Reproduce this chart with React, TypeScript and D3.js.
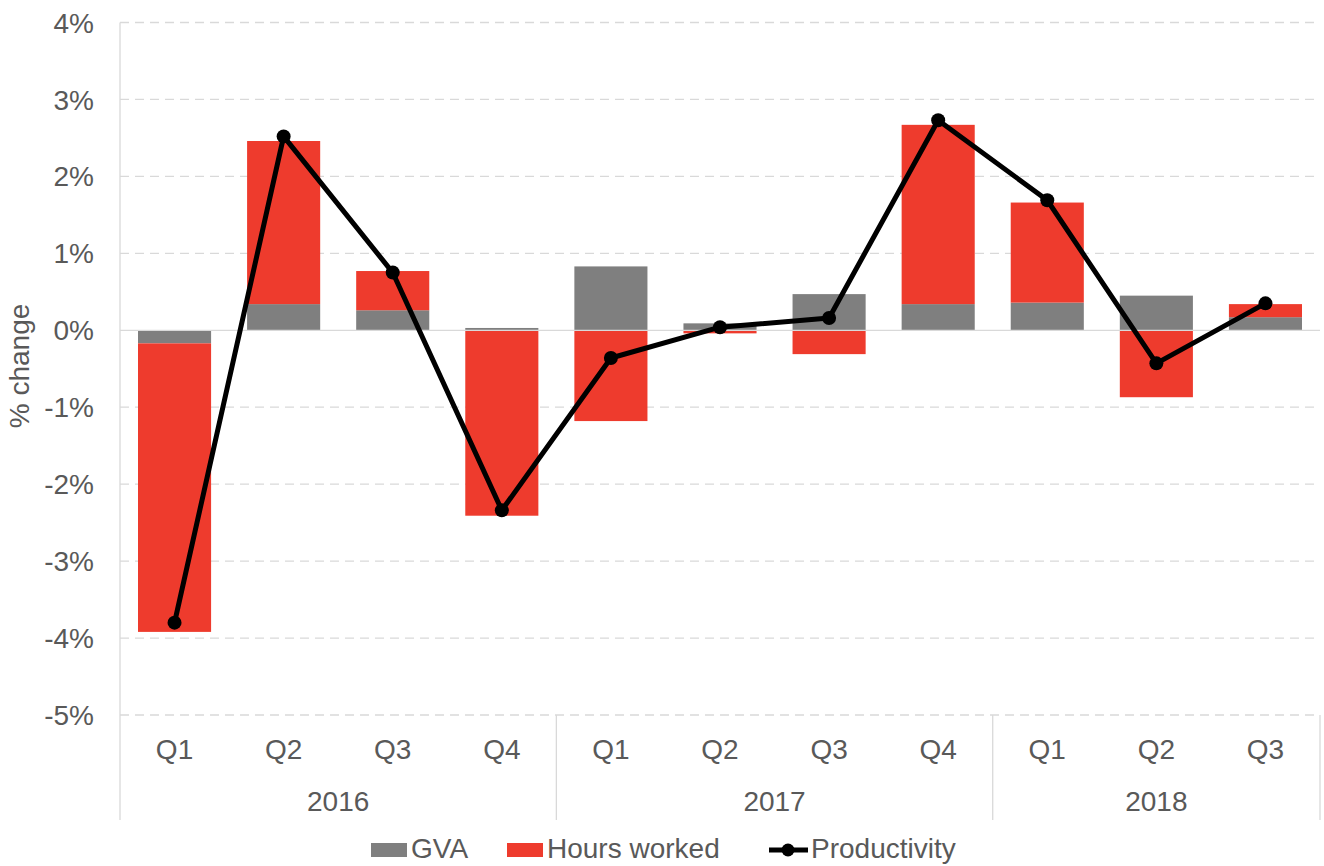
import { useEffect, useRef } from "react";
import * as d3 from "d3";

const quarters = ["Q1", "Q2", "Q3", "Q4", "Q1", "Q2", "Q3", "Q4", "Q1", "Q2", "Q3"];
const years = ["2016", "2017", "2018"];
const yearSpans = [4, 4, 3];
const gva = [-0.17, 0.34, 0.26, 0.03, 0.83, 0.09, 0.47, 0.34, 0.36, 0.45, 0.17];
const hoursWorked = [-3.75, 2.12, 0.51, -2.41, -1.18, -0.04, -0.31, 2.33, 1.3, -0.87, 0.17];
const productivity = [-3.8, 2.52, 0.75, -2.34, -0.36, 0.04, 0.16, 2.73, 1.69, -0.43, 0.35];
const yTicks = [4, 3, 2, 1, 0, -1, -2, -3, -4, -5];

const GREY = "#7f7f7f";
const RED = "#ee3b2d";
const TEXT = "#595959";
const FONT = "'Liberation Sans', Arial, sans-serif";

export default function App() {
  const ref = useRef<SVGSVGElement>(null);

  useEffect(() => {
    const svg = d3.select(ref.current);
    const width = 1324;
    const height = 866;
    const left = 120;
    const right = 1320;
    svg.selectAll("*").remove();
    svg.attr("viewBox", `0 0 ${width} ${height}`);

    const idx = quarters.map((_, i) => i);
    const x = d3.scaleBand<number>().domain(idx).range([left, right]).paddingInner(0.33).paddingOuter(0.165);
    const step = x.step();
    const y = d3.scaleLinear().domain([-5, 4]).range([715, 22.5]);

    // gridlines
    svg
      .append("g")
      .selectAll("line")
      .data(yTicks.filter((t) => t !== 0))
      .join("line")
      .attr("x1", left)
      .attr("x2", right)
      .attr("y1", (d) => y(d))
      .attr("y2", (d) => y(d))
      .attr("stroke", "#d9d9d9")
      .attr("stroke-width", 1.3)
      .attr("stroke-dasharray", "9,6");

    // tick labels
    svg
      .append("g")
      .selectAll("text")
      .data(yTicks)
      .join("text")
      .attr("x", 94)
      .attr("y", (d) => y(d))
      .attr("dy", "0.36em")
      .attr("text-anchor", "end")
      .attr("fill", TEXT)
      .style("font", `28px ${FONT}`)
      .text((d) => `${d}%`);

    svg
      .append("text")
      .attr("transform", `translate(29,366) rotate(-90)`)
      .attr("text-anchor", "middle")
      .attr("fill", TEXT)
      .style("font", `28px ${FONT}`)
      .text("% change");

    // stacked bars: positives and negatives stack separately
    const bars = svg.append("g");
    idx.forEach((i) => {
      let pos = 0;
      let neg = 0;
      [
        { v: gva[i], c: GREY },
        { v: hoursWorked[i], c: RED },
      ].forEach(({ v, c }) => {
        const base = v >= 0 ? pos : neg;
        const top = base + v;
        if (v >= 0) pos = top;
        else neg = top;
        bars
          .append("rect")
          .attr("x", x(i)!)
          .attr("width", x.bandwidth())
          .attr("y", y(Math.max(base, top)))
          .attr("height", Math.abs(y(base) - y(top)))
          .attr("fill", c);
      });
    });

    // zero axis line
    svg
      .append("line")
      .attr("x1", left)
      .attr("x2", right)
      .attr("y1", y(0))
      .attr("y2", y(0))
      .attr("stroke", "#d9d9d9")
      .attr("stroke-width", 1.3);

    // left axis and category separators
    const seps = [0, 4, 8, 11];
    svg
      .append("g")
      .selectAll("line")
      .data(seps)
      .join("line")
      .attr("x1", (d) => left + d * step)
      .attr("x2", (d) => left + d * step)
      .attr("y1", (d) => (d === 0 ? 22.5 : y(-5)))
      .attr("y2", 820)
      .attr("stroke", "#d9d9d9")
      .attr("stroke-width", 1.3);

    svg
      .append("g")
      .selectAll("text")
      .data(idx)
      .join("text")
      .attr("x", (d) => x(d)! + x.bandwidth() / 2)
      .attr("y", 759)
      .attr("text-anchor", "middle")
      .attr("fill", TEXT)
      .style("font", `28px ${FONT}`)
      .text((d) => quarters[d]);

    let acc = 0;
    years.forEach((yr, k) => {
      const cx = left + (acc + yearSpans[k] / 2) * step;
      acc += yearSpans[k];
      svg
        .append("text")
        .attr("x", cx)
        .attr("y", 811)
        .attr("text-anchor", "middle")
        .attr("fill", TEXT)
        .style("font", `28px ${FONT}`)
        .text(yr);
    });

    // productivity line
    const line = d3
      .line<number>()
      .x((d, i) => x(i)! + x.bandwidth() / 2)
      .y((d) => y(d));
    svg
      .append("path")
      .datum(productivity)
      .attr("d", line)
      .attr("fill", "none")
      .attr("stroke", "#000")
      .attr("stroke-width", 5)
      .attr("stroke-linejoin", "round");
    svg
      .append("g")
      .selectAll("circle")
      .data(productivity)
      .join("circle")
      .attr("cx", (d, i) => x(i)! + x.bandwidth() / 2)
      .attr("cy", (d) => y(d))
      .attr("r", 7)
      .attr("fill", "#000");

    // legend
    const lg = svg.append("g").attr("transform", "translate(0,850)");
    const lt = (xx: number, s: string) =>
      lg.append("text").attr("x", xx).attr("y", 8).attr("fill", TEXT).style("font", `28px ${FONT}`).text(s);
    lg.append("rect").attr("x", 371).attr("y", -7).attr("width", 36).attr("height", 14).attr("fill", GREY);
    lt(411, "GVA");
    lg.append("rect").attr("x", 507).attr("y", -7).attr("width", 36).attr("height", 14).attr("fill", RED);
    lt(547, "Hours worked");
    lg.append("line").attr("x1", 769).attr("x2", 808).attr("y1", 0).attr("y2", 0).attr("stroke", "#000").attr("stroke-width", 5);
    lg.append("circle").attr("cx", 788).attr("cy", 0).attr("r", 6.5).attr("fill", "#000");
    lt(811, "Productivity");
  }, []);

  return (
    <svg
      ref={ref}
      width={1324}
      height={866}
      style={{ position: "absolute", left: 0, top: 0, background: "#fff" }}
      role="img"
      aria-label="GVA, hours worked and productivity quarterly % change"
    />
  );
}
